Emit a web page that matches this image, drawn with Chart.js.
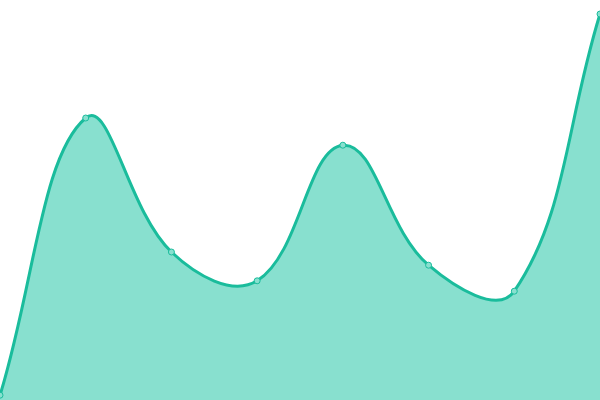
<!DOCTYPE html>
<html>
<head>
<meta charset="utf-8">
<script src="https://cdn.jsdelivr.net/npm/chart.js@4"></script>
<style>
  html, body { margin: 0; padding: 0; background: #fff; }
  #wrap { width: 600px; height: 400px; }
</style>
</head>
<body>
<div id="wrap"><canvas id="areaChart"></canvas></div>
<script>
const labels = ["1", "2", "3", "4", "5", "6", "7", "8"];
const values = [1.2, 70.5, 37, 29.8, 63.7, 33.7, 27.2, 96.5];

const ctx = document.getElementById("areaChart").getContext("2d");

new Chart(ctx, {
    type: "line",
    data: {
        labels: labels,
        datasets: [
            {
                data: values,
                borderColor: "#1abc9c",
                backgroundColor: "#88e0cf",
                borderWidth: 3,
                fill: true,
                tension: 0.4,
                pointRadius: 3,
                pointBackgroundColor: "#88e0cf",
                pointBorderColor: "#1abc9c",
                pointBorderWidth: 1,
            },
        ],
    },
    options: {
        responsive: true,
        maintainAspectRatio: false,
        animation: false,
        layout: { padding: 0, autoPadding: false },
        plugins: { legend: { display: false }, tooltip: { enabled: false } },
        scales: {
            x: { display: false, offset: false },
            y: { display: false, min: 0, max: 100 }
        },
    },
});
</script>
</body>
</html>
